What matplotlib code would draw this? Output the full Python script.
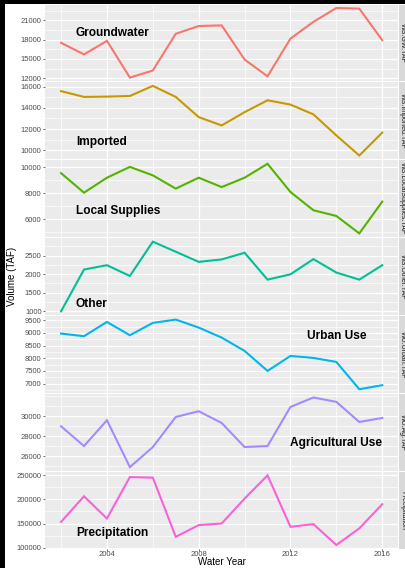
"""Water supply / use faceted time series (ggplot-style facet_grid, free y)."""
import matplotlib as mpl; mpl.use("Agg")
import matplotlib.pyplot as plt
from matplotlib.patches import Rectangle
from matplotlib.ticker import FixedLocator, AutoMinorLocator, FuncFormatter

plt.rcParams.update({"font.family": ["Liberation Sans", "DejaVu Sans"]})

years = list(range(2002, 2017))
gw = [17500, 15700, 17800, 12100, 13200, 18900, 20100, 20200, 14900, 12300, 18150, 20750, 22900, 22800, 17900]
imported = [15600, 15050, 15080, 15140, 16100, 15050, 13130, 12340, 13600, 14730, 14320, 13390, 11390, 9480, 11660]
local = [9540, 8040, 9190, 10020, 9370, 8350, 9190, 8470, 9190, 10260, 8090, 6690, 6250, 4910, 7350]
other = [995, 2124, 2241, 1950, 2876, 2604, 2331, 2396, 2577, 1851, 1995, 2405, 2042, 1851, 2241]
urban = [8975, 8870, 9434, 8908, 9395, 9527, 9211, 8816, 8289, 7500, 8091, 8012, 7854, 6776, 6934]
ag = [29000, 27030, 29600, 24930, 26930, 29930, 30500, 29330, 26930, 27030, 30930, 31870, 31430, 29430, 29830]
precip = [153400, 206200, 160400, 245900, 244700, 122600, 146700, 150100, 201500, 249400, 143200, 148700, 105600, 139900, 189800]

series = [gw, imported, local, other, urban, ag, precip]
strips = ["WS.GW.TAF", "WS.Imported.TAF", "WS.LocalSupplies.TAF", "WS.Other.TAF",
          "WU.Urban.TAF", "WU.Ag.TAF", "Precipitation"]
names = ["Groundwater", "Imported", "Local Supplies", "Other", "Urban Use",
         "Agricultural Use", "Precipitation"]
yticks = [[12000, 15000, 18000, 21000], [10000, 12000, 14000, 16000], [6000, 8000, 10000],
          [1000, 1500, 2000, 2500], [7000, 7500, 8000, 8500, 9000, 9500],
          [26000, 28000, 30000], [100000, 150000, 200000, 250000]]
xmajor = [2004, 2008, 2012, 2016]
xminor = [2002, 2006, 2010, 2014]
colors = ["#F8766D", "#C49A00", "#53B400", "#00C094", "#00B6EB", "#A58AFF", "#FB61D7"]

# label placement (x year, y value, alignment)
label_pos = [(2002.65, 19000, "left"), (2002.65, 10750, "left"), (2002.65, 6650, "left"),
             (2002.65, 1200, "left"), (2014, 8870, "center"), (2014, 27330, "center"),
             (2002.65, 131000, "left")]

W, H = 406, 568
fig = plt.figure(figsize=(W / 100, H / 100), dpi=100)
L, R, T, B, GAP = 45, 398.3, 4.5, 548.5, 1.3
ph = (B - T - 6 * GAP) / 7
TXT = "#4D4D4D"

for i, vals in enumerate(series):
    top = T + i * (ph + GAP)
    ax = fig.add_axes([L / W, 1 - (top + ph) / H, (R - L) / W, ph / H])
    ax.set_facecolor("#EBEBEB")
    for s in ax.spines.values():
        s.set_visible(False)
    ax.plot(years, vals, color=colors[i], lw=1.5, solid_joinstyle="miter", zorder=3)
    ax.set_xlim(2001.3, 2016.7)
    ax.margins(y=0.05)
    ax.yaxis.set_major_locator(FixedLocator(yticks[i]))
    ax.yaxis.set_minor_locator(AutoMinorLocator(2))
    ax.yaxis.set_major_formatter(FuncFormatter(lambda v, p: f"{v:.0f}"))
    ax.xaxis.set_major_locator(FixedLocator(xmajor))
    ax.xaxis.set_minor_locator(FixedLocator(xminor))
    ax.grid(which="major", color="white", lw=0.9, zorder=0)
    ax.grid(which="minor", color="white", lw=0.5, zorder=0)
    ax.set_axisbelow(True)
    ax.tick_params(axis="y", which="major", labelsize=5.5, labelcolor=TXT, color="#333333",
                   length=1.6, width=0.5, pad=0.8)
    ax.tick_params(axis="both", which="minor", length=0)
    if i < 6:
        ax.tick_params(axis="x", which="major", length=0, labelbottom=False)
    else:
        ax.tick_params(axis="x", which="major", labelsize=5.5, labelcolor=TXT, color="#333333",
                       length=1.4, width=0.5, pad=0.3)
    x, y, ha = label_pos[i]
    ax.text(x, y, names[i], ha=ha, va="center", fontsize=8.6, fontweight="bold", color="black")

    # facet strip on the right
    fig.patches.append(Rectangle(((R + 0.7) / W, 1 - (top + ph) / H), 20 / W, ph / H,
                                 transform=fig.transFigure, facecolor="#D9D9D9", edgecolor="none"))
    fig.text(402.6 / W, 1 - (top + ph / 2) / H, strips[i], rotation=-90, ha="center", va="center",
             fontsize=5, color="#1A1A1A")

fig.text((L + R) / 2 / W, 1 - 562 / H, "Water Year", ha="center", va="center", fontsize=7)
fig.text(12 / W, 1 - (T + B) / 2 / H, "Volume (TAF)", rotation=90, ha="center", va="center", fontsize=7)

# dark frame left / top edge of the screenshot
fig.patches.append(Rectangle((0, 0), 5 / W, 1, transform=fig.transFigure, facecolor="black", edgecolor="none"))
fig.patches.append(Rectangle((0, 1 - 3.5 / H), 1, 3.5 / H, transform=fig.transFigure, facecolor="black", edgecolor="none"))

fig.savefig("out.png", dpi=100)
